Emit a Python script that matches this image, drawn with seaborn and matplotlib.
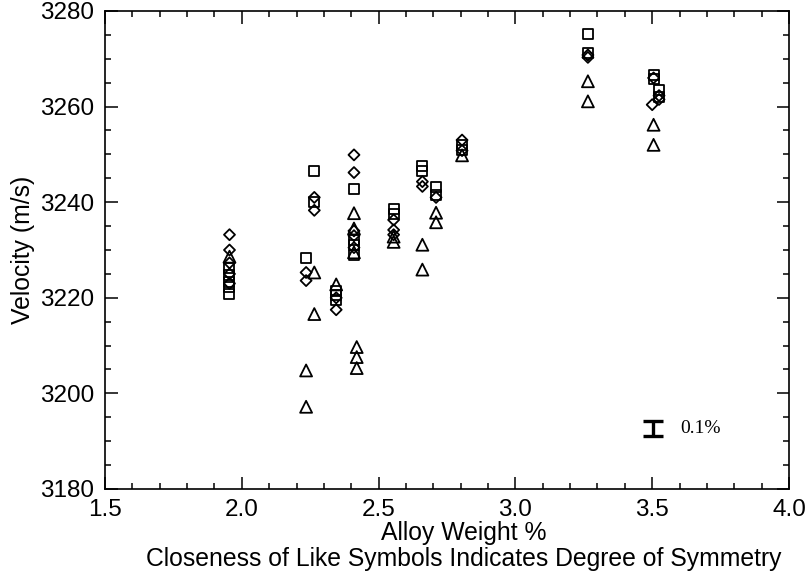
import matplotlib
matplotlib.use("Agg")
import matplotlib.pyplot as plt
import seaborn as sns
import pandas as pd
from matplotlib.ticker import MultipleLocator, FormatStrFormatter

# ---- data (alloy weight %, velocity m/s) ----
square_x = [1.955, 1.955, 1.955, 1.955, 1.955, 2.235, 2.265, 2.265,
            2.345, 2.345, 2.345, 2.41, 2.41, 2.41, 2.41, 2.555, 2.555,
            2.66, 2.66, 2.71, 2.71, 2.805, 2.805, 3.265, 3.265,
            3.505, 3.505, 3.525, 3.525]
square_y = [3226.3, 3224.8, 3223.4, 3222.3, 3220.8, 3228.4, 3246.5, 3240.0,
            3221.5, 3220.5, 3219.5, 3242.8, 3232.0, 3231.0, 3229.0, 3238.5, 3237.5,
            3247.5, 3246.5, 3243.2, 3241.5, 3252.0, 3251.0, 3275.1, 3271.2,
            3266.6, 3265.8, 3263.5, 3262.0]

diamond_x = [1.955, 1.955, 1.955, 1.955, 1.955, 2.235, 2.235, 2.265, 2.265,
             2.345, 2.345, 2.41, 2.41, 2.41, 2.41, 2.41, 2.555, 2.555, 2.555,
             2.66, 2.66, 2.71, 2.805, 2.805, 3.265, 3.265,
             3.505, 3.50, 3.525, 3.525]
diamond_y = [3233.2, 3230.0, 3227.3, 3225.0, 3223.0, 3225.3, 3223.6, 3241.0, 3238.3,
             3217.5, 3220.0, 3249.9, 3246.2, 3234.0, 3233.0, 3230.5, 3236.3, 3234.2, 3233.2,
             3244.3, 3243.3, 3241.0, 3253.0, 3250.8, 3270.8, 3270.3,
             3266.0, 3260.4, 3262.3, 3261.5]

triangle_x = [1.955, 2.235, 2.235, 2.265, 2.265, 2.345,
              2.41, 2.41, 2.41, 2.42, 2.42, 2.42, 2.555, 2.555,
              2.66, 2.66, 2.71, 2.71, 2.805, 3.265, 3.265, 3.505, 3.505]
triangle_y = [3228.6, 3204.8, 3197.2, 3225.3, 3216.6, 3222.8,
              3237.7, 3234.5, 3229.5, 3209.7, 3207.6, 3205.3, 3232.8, 3231.7,
              3231.1, 3225.9, 3237.8, 3235.8, 3249.8, 3265.3, 3261.1, 3256.2, 3252.0]

errbar_x = [3.503]
errbar_y = [3192.6]
errbar_err = [1.6]
errbar_label = "0.1%"

x_ticks = [1.5, 2.0, 2.5, 3.0, 3.5, 4.0]
y_ticks = [3180, 3200, 3220, 3240, 3260, 3280]

sns.set_theme(style="ticks")
plt.rcParams['font.family'] = ['Liberation Sans', 'DejaVu Sans']
for k in ["text.color", "axes.labelcolor", "xtick.color", "ytick.color", "axes.edgecolor"]:
    plt.rcParams[k] = "black"

fig = plt.figure(figsize=(8.11, 5.75), dpi=100)
L, R, T, B = 105, 789, 11, 489
ax = fig.add_axes([L / 811, 1 - B / 575, (R - L) / 811, (B - T) / 575])

df_sq = pd.DataFrame({"x": square_x, "y": square_y})
df_di = pd.DataFrame({"x": diamond_x, "y": diamond_y})
df_tr = pd.DataFrame({"x": triangle_x, "y": triangle_y})

common = dict(facecolor="none", edgecolor="black", linewidth=1.3, ax=ax, legend=False, zorder=3)
sns.scatterplot(data=df_sq, x="x", y="y", marker="s", s=7.2 ** 2, **common)
sns.scatterplot(data=df_di, x="x", y="y", marker="D", s=5.6 ** 2, **common)
sns.scatterplot(data=df_tr, x="x", y="y", marker="^", s=8.6 ** 2, **common)

ax.errorbar(errbar_x, errbar_y, yerr=errbar_err, fmt="none", ecolor="black",
            elinewidth=2.4, capsize=7.2, capthick=2.4, zorder=3)
ax.text(errbar_x[0] + 0.098, errbar_y[0], errbar_label, ha="left", va="center",
        fontsize=14, family=["Liberation Serif", "DejaVu Serif"])

ax.set_xlim(1.5, 4.0)
ax.set_ylim(3180, 3280)
ax.set_xticks(x_ticks)
ax.set_yticks(y_ticks)
ax.xaxis.set_major_formatter(FormatStrFormatter("%.1f"))
ax.yaxis.set_major_formatter(FormatStrFormatter("%d"))
ax.xaxis.set_minor_locator(MultipleLocator(0.1))
ax.yaxis.set_minor_locator(MultipleLocator(5))

ax.tick_params(which="both", direction="in", top=True, right=True, colors="black",
               width=1.1)
ax.tick_params(which="major", length=9, labelsize=17.5)
ax.tick_params(axis="y", which="major", pad=8)
ax.tick_params(axis="x", which="major", pad=7)
ax.tick_params(which="minor", length=4.5)
for sp in ax.spines.values():
    sp.set_color("black")
    sp.set_linewidth(1.2)

ax.set_xlabel("Alloy Weight %\nCloseness of Like Symbols Indicates Degree of Symmetry",
              fontsize=17.8, linespacing=1.1)
ax.xaxis.set_label_coords(0.525, -0.067, transform=ax.transAxes)
ax.xaxis.label.set_va("top")
ax.set_ylabel("Velocity (m/s)", fontsize=17.8, labelpad=3)

fig.savefig("out.png", dpi=100)
